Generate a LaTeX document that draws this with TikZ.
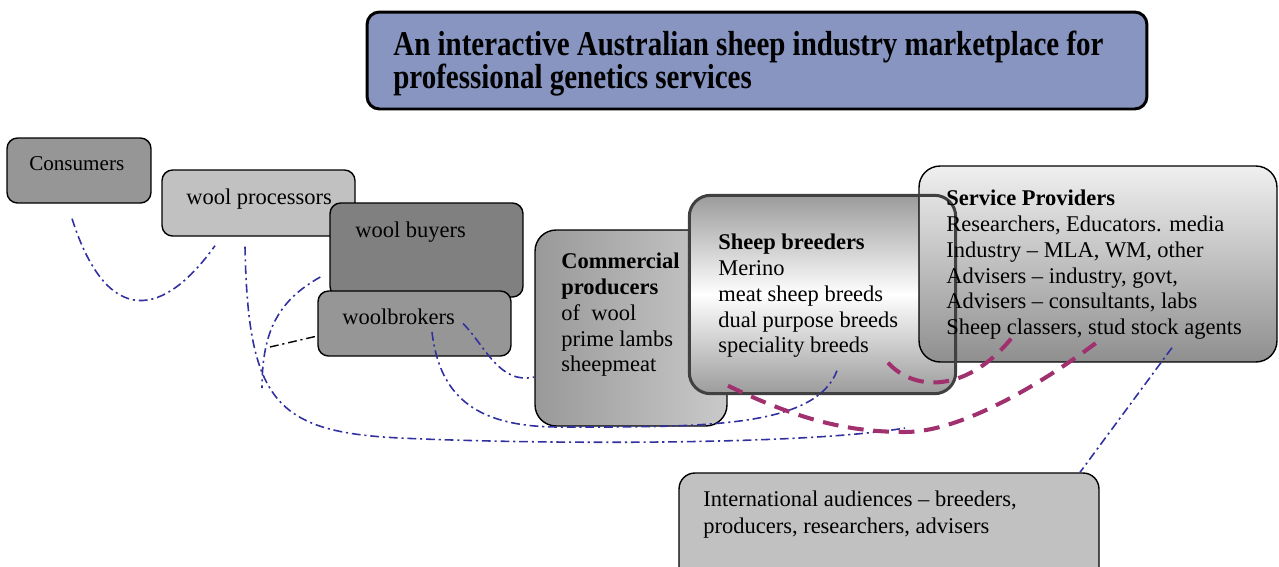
\documentclass[tikz,border=0pt]{standalone}
\usepackage{fontspec}
\setmainfont{Liberation Serif}

\definecolor{headblue}{RGB}{135,149,192}
\definecolor{linkblue}{RGB}{48,48,160}
\definecolor{tiepink}{RGB}{160,48,110}

\tikzset{
	box/.style={draw, line width=0.8pt, rounded corners=6pt, inner sep=0pt},
	bigbox/.style={box, rounded corners=12pt},
	txt/.style={anchor=north west, align=left, inner sep=0pt, font=\fontsize{12.8}{14.7}\selectfont},
	link/.style={linkblue, line width=0.9pt, dash pattern=on 5pt off 2.2pt on 1.2pt off 2.2pt},
	tie/.style={tiepink, line width=2.3pt, dash pattern=on 9pt off 5.5pt},
}

\begin{document}
\begin{tikzpicture}[x=0.02cm, y=-0.02cm]
	\clip (0,0) rectangle (1279,566);

	% Wool chain, from consumers down to the brokers
	\node[box, fill=gray!82, minimum width=2.88cm, minimum height=1.3cm] (cons) at (79,170.5) {};
	\node[box, fill=gray!49, minimum width=3.86cm, minimum height=1.32cm] (proc) at (258.5,203) {};
	\node[box, fill=gray, minimum width=3.86cm, minimum height=1.88cm] (buy) at (426.5,250) {};
	\node[box, fill=gray!82, minimum width=3.86cm, minimum height=1.3cm] (brk) at (414.5,323.5) {};

	% Producers, breeders and service providers
	\node[bigbox, left color=gray!80, right color=gray!42, minimum width=3.84cm, minimum height=3.92cm] (com) at (631,328) {};
	\node[bigbox, draw=none, top color=gray!78, bottom color=gray!78, middle color=white, minimum width=5.3cm, minimum height=3.94cm] (brd) at (822.5,294.5) {};
	\node[bigbox, top color=gray!12, bottom color=gray!88, minimum width=7.16cm, minimum height=3.92cm] (srv) at (1098,264) {};
	\draw[black!75, line width=1.7pt, rounded corners=12pt] (brd.south west) rectangle (brd.north east);

	\node[box, rounded corners=9pt, fill=gray!49, minimum width=8.4cm, minimum height=2.34cm] (intl) at (889,531.5) {};
	\node[box, line width=1.7pt, rounded corners=7pt, fill=headblue, minimum width=15.6cm, minimum height=1.94cm] (head) at (757,60.5) {};

	% Texts
	\node[txt, font=\fontsize{12}{14}\selectfont] (cons-t) at (29,156.5) {Consumers};
	\node[txt] (proc-t) at (186,188.6) {wool processors};
	\node[txt] (buy-t) at (355,222) {wool buyers};
	\node[txt] (brk-t) at (342,309) {woolbrokers};
	\node[txt] (com-t) at (561,252.6) {\textbf{Commercial}\\\textbf{producers}\\of\ \ wool\\prime lambs\\sheepmeat};
	\node[txt] (brd-t) at (718,233.6) {\textbf{Sheep breeders}\\Merino\\meat sheep breeds\\dual purpose breeds\\speciality breeds};
	\node[txt] (srv-t) at (946,189.6) {\textbf{Service Providers}\\Researchers, Educators. media\\Industry -- MLA, WM, other\\Advisers -- industry, govt,\\Advisers -- consultants, labs\\Sheep classers, stud stock agents};
	\node[txt, font=\fontsize{12.8}{15.2}\selectfont] (intl-t) at (703,490.6) {International audiences -- breeders,\\producers, researchers, advisers};
	\node[txt, font=\fontsize{16.5}{18.7}\selectfont\bfseries] (head-t) at (393,31) {\scalebox{1}[1.2]{An interactive Australian sheep industry marketplace for}\\\scalebox{1}[1.2]{professional genetics services}};

	% Links between the groups
	\coordinate (merge) at (262,388);
	\coordinate (trade-end) at (905,428);
	\coordinate (brk-tail) at (270,347);
	\draw[link] ([shift={(-7,15)}]cons.south) .. controls +(36,112) and +(-50,70) .. ([shift={(-43.5,9)}]proc.south);
	\draw[link] ([shift={(-13.5,10)}]proc.south) .. controls +(3,154) and +(-125,-6) .. (400,438) .. controls +(125,6) and +(-105,18) .. (trade-end);
	\draw[link] ([shift={(-9,27)}]buy.west) .. controls +(-41,23) and +(0,-58) .. (merge);
	\draw[black, line width=0.8pt, dash pattern=on 5pt off 2.2pt on 1.2pt off 2.2pt] (brk-tail) -- ([shift={(0,12.5)}]brk.west);
	\draw[link] ([shift={(48.5,0)}]brk.center) .. controls +(22,22) and +(-35,8) .. ([shift={(0,49)}]com.west);
	\draw[link] ([shift={(17.5,8.5)}]brk.center) .. controls +(8,68) and +(-80,0) .. (560,427) .. controls +(140,0) and +(-22,58) .. ([shift={(14.5,-23)}]brd.south);
	\draw[link] ([shift={(74,-15)}]srv.south) -- ([shift={(191,0)}]intl.north);

	% Breeders to service providers
	\draw[tie] ([shift={(-94.5,-8)}]brd.south) .. controls +(72,35) and +(-55,0) .. (905,432) .. controls +(55,0) and +(-63,48) .. ([shift={(5,-25)}]srv.south);
	\draw[tie] ([shift={(65.5,-31)}]brd.south) .. controls +(27,30) and +(-45,59) .. ([shift={(-83,-29)}]srv.south);
\end{tikzpicture}
\end{document}
